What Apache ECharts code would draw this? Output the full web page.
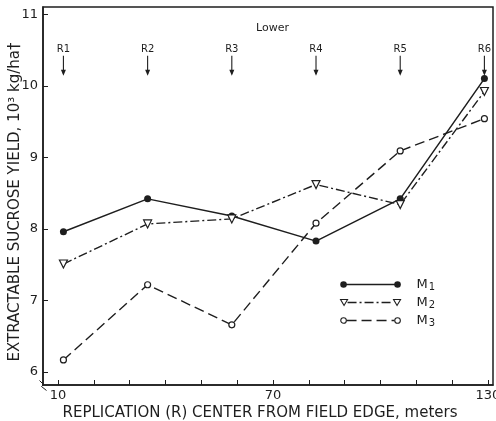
<!DOCTYPE html>
<html>
<head>
<meta charset="utf-8">
<script src="https://cdn.jsdelivr.net/npm/echarts@6/dist/echarts.min.js"></script>
<style>
html,body{margin:0;padding:0;background:#fff;}
#c{width:496px;height:421px;}
</style>
</head>
<body>
<div id="c"></div>
<script>
// Replication centers (meters from field edge)
var positions = [11.5, 35, 58.5, 82, 105.5, 129];
var repLabels = ['R1', 'R2', 'R3', 'R4', 'R5', 'R6'];
// Extractable sucrose yield, 10^3 kg/ha
var m1 = [7.96, 8.42, 8.18, 7.83, 8.42, 10.10];
var m2 = [7.51, 8.07, 8.14, 8.62, 8.34, 9.92];
var m3 = [6.17, 7.22, 6.66, 8.08, 9.09, 9.54];
var seriesNames = ['M1', 'M2', 'M3'];
var yTicks = [6, 7, 8, 9, 10, 11];
var xTicks = [10, 20, 30, 40, 50, 60, 70, 80, 90, 100, 110, 120, 130];
var xTickLabels = [10, 70, 130];

function pairs(vals) {
  return positions.map(function (p, i) { return [p, vals[i]]; });
}

var ink = '#1e1e1e';
var font = 'DejaVu Sans';

var chart = echarts.init(document.getElementById('c'), null, {renderer: 'canvas'});

var option = {
  backgroundColor: '#fff',
  animation: false,
  grid: {
    left: 43, right: 3, top: 7, bottom: 36,
    outerBoundsMode: 'none',
    containLabel: false,
    show: true, borderColor: ink, borderWidth: 1.5, backgroundColor: 'transparent'
  },
  xAxis: {
    type: 'value',
    min: 5.8, max: 131.4,
    splitLine: {show: false},
    axisLine: {lineStyle: {color: ink, width: 1.5}},
    axisTick: {show: true, inside: true, length: 5, customValues: xTicks, lineStyle: {color: ink}},
    axisLabel: {customValues: xTickLabels, color: ink, fontFamily: font, fontSize: 13, margin: 4},
    name: 'REPLICATION (R) CENTER FROM FIELD EDGE, meters',
    nameLocation: 'middle',
    nameGap: 21,
    nameMoveOverlap: false,
    nameTextStyle: {color: ink, fontFamily: font, fontSize: 15, padding: [0, 16, 0, 0]}
  },
  yAxis: {
    type: 'value',
    min: 5.82, max: 11.1,
    splitLine: {show: false},
    axisLine: {lineStyle: {color: ink, width: 1.5}},
    axisTick: {show: true, inside: true, length: 5, customValues: yTicks, lineStyle: {color: ink}},
    axisLabel: {customValues: yTicks, color: ink, fontFamily: font, fontSize: 13, margin: 5},
    name: 'EXTRACTABLE SUCROSE YIELD, 10\u00B3 kg/ha\u2020',
    nameLocation: 'middle',
    nameGap: 20,
    nameMoveOverlap: false,
    nameTextStyle: {color: ink, fontFamily: font, fontSize: 15, padding: [0, 12, 0, 0]}
  },
  series: [
    {
      name: seriesNames[0], type: 'line', data: pairs(m1),
      symbol: 'circle', symbolSize: 7,
      itemStyle: {color: ink},
      lineStyle: {color: ink, width: 1.5, type: 'solid'}
    },
    {
      name: seriesNames[1], type: 'line', data: pairs(m2),
      symbol: 'triangle', symbolRotate: 180, symbolSize: 8,
      itemStyle: {color: '#fff', borderColor: ink, borderWidth: 1.2},
      lineStyle: {color: ink, width: 1.4, type: [9, 3, 2, 3]}
    },
    {
      name: seriesNames[2], type: 'line', data: pairs(m3),
      symbol: 'circle', symbolSize: 6,
      itemStyle: {color: '#fff', borderColor: ink, borderWidth: 1.2},
      lineStyle: {color: ink, width: 1.4, type: [10, 5]}
    },
    {
      type: 'custom',
      silent: true,
      data: positions.map(function (p, i) { return [p, repLabels[i]]; }),
      renderItem: function (params, api) {
        var x = api.value(0);
        var top = api.coord([x, 10.42]);
        var tip = api.coord([x, 10.14]);
        return {
          type: 'group',
          children: [
            {type: 'line', shape: {x1: top[0], y1: top[1], x2: tip[0], y2: tip[1] - 2},
             style: {stroke: ink, lineWidth: 1.1}},
            {type: 'polygon', shape: {points: [[tip[0] - 2.5, tip[1] - 6], [tip[0] + 2.5, tip[1] - 6], [tip[0], tip[1]]]},
             style: {fill: ink}},
            {type: 'text', x: top[0], y: top[1] - 1,
             style: {text: repLabels[params.dataIndex], fill: ink, font: '10px ' + font, align: 'center', verticalAlign: 'bottom'}}
          ]
        };
      }
    }
  ],
  graphic: [
    {type: 'text', left: 256, top: 23, style: {text: 'Lower', fill: ink, font: '11px ' + font}},
    // legend
    {type: 'group', left: 340, top: 278, children: [
      {type: 'line', shape: {x1: 3, y1: 4, x2: 57, y2: 4}, style: {stroke: ink, lineWidth: 1.4}},
      {type: 'circle', shape: {cx: 3, cy: 4, r: 3.3}, style: {fill: ink}},
      {type: 'circle', shape: {cx: 57, cy: 4, r: 3.3}, style: {fill: ink}},
      {type: 'line', shape: {x1: 7, y1: 22, x2: 53, y2: 22}, style: {stroke: ink, lineWidth: 1.3, lineDash: [9, 3, 2, 3]}},
      {type: 'polygon', shape: {points: [[0, 19], [7, 19], [3.5, 25]]}, style: {fill: '#fff', stroke: ink, lineWidth: 1.1}},
      {type: 'polygon', shape: {points: [[53, 19], [60, 19], [56.5, 25]]}, style: {fill: '#fff', stroke: ink, lineWidth: 1.1}},
      {type: 'line', shape: {x1: 6, y1: 40, x2: 54, y2: 40}, style: {stroke: ink, lineWidth: 1.3, lineDash: [10, 5]}},
      {type: 'circle', shape: {cx: 3, cy: 40, r: 2.8}, style: {fill: '#fff', stroke: ink, lineWidth: 1.1}},
      {type: 'circle', shape: {cx: 57, cy: 40, r: 2.8}, style: {fill: '#fff', stroke: ink, lineWidth: 1.1}},
      {type: 'text', x: 76, y: 4, style: {text: '{m|M}{s|1}', verticalAlign: 'middle', rich: {m: {fill: ink, font: '13px ' + font}, s: {fill: ink, font: '10px ' + font, padding: [6, 0, 0, 1]}}}},
      {type: 'text', x: 76, y: 22, style: {text: '{m|M}{s|2}', verticalAlign: 'middle', rich: {m: {fill: ink, font: '13px ' + font}, s: {fill: ink, font: '10px ' + font, padding: [6, 0, 0, 1]}}}},
      {type: 'text', x: 76, y: 40, style: {text: '{m|M}{s|3}', verticalAlign: 'middle', rich: {m: {fill: ink, font: '13px ' + font}, s: {fill: ink, font: '10px ' + font, padding: [6, 0, 0, 1]}}}}
    ]},
    // axis break mark
    {type: 'polyline', left: 37, top: 378, shape: {points: [[0, 0], [4, 4], [2, 6], [7, 10]]}, style: {stroke: ink, fill: null, lineWidth: 1}}
  ]
};
chart.setOption(option);
</script>
</body>
</html>
